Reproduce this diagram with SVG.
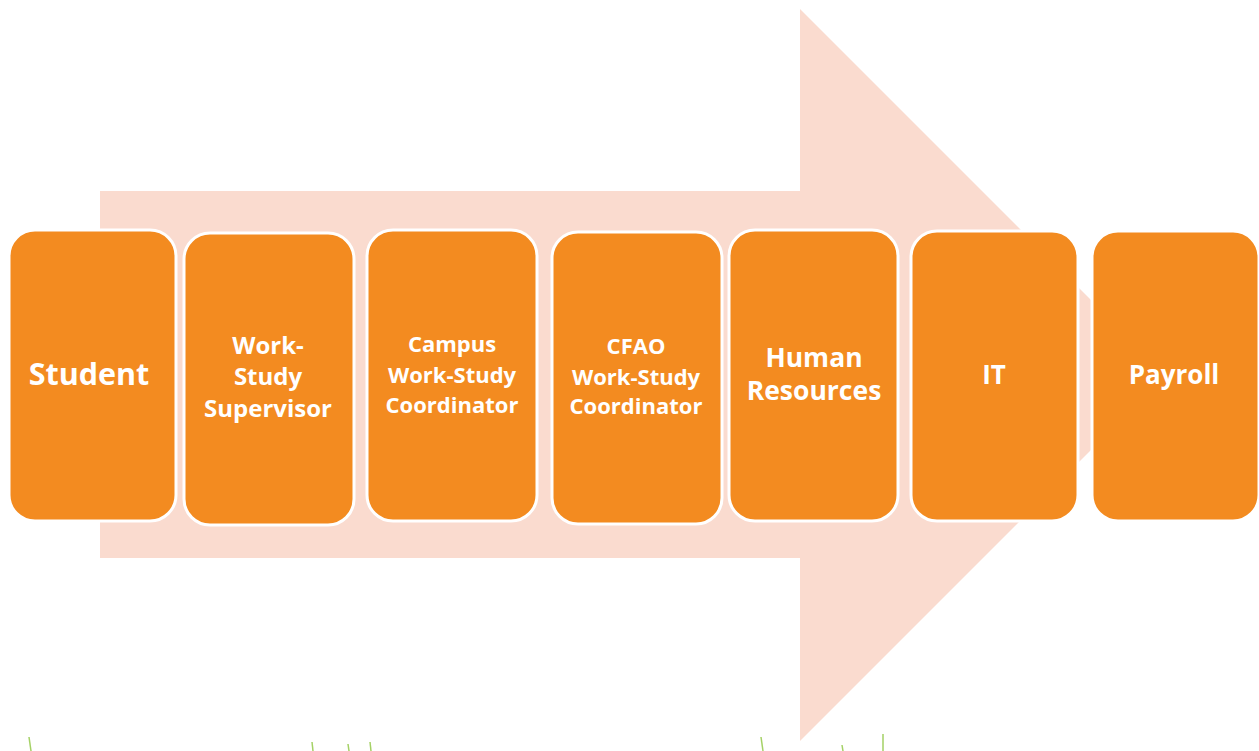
<svg xmlns="http://www.w3.org/2000/svg" width="1259" height="751" viewBox="0 0 1259 751">
<style>
.box{fill:#F38B20;stroke:#FFFFFF;stroke-width:3}
.lbl{font-family:"Open Sans","Noto Sans","Liberation Sans",sans-serif;font-weight:bold;fill:#FFFFFF;text-anchor:middle}
.grass{stroke:#8DC63F;stroke-width:1.5;fill:none;opacity:0.8}
</style>
<rect x="0" y="0" width="1259" height="751" fill="#FFFFFF"/>
<g id="arrow">
<polygon points="100,191 800,191 800,9 1166,375 800,741 800,558 100,558" fill="#FADBCF"/>
</g>
<g id="grass">
<path class="grass" d="M31,751 L29,737"/>
<path class="grass" d="M313,751 L312,742"/>
<path class="grass" d="M349,751 L348,744"/>
<path class="grass" d="M371,751 L370,742"/>
<path class="grass" d="M763,751 L761,737"/>
<path class="grass" d="M843,751 L842,745"/>
<path class="grass" d="M883,751 L883,734"/>
</g>
<g id="connectors"></g>
<g id="student">
<rect class="box" x="9" y="230" width="167" height="291" rx="26"/>
<text class="lbl" x="89" y="385" font-size="30.5">Student</text>
</g>
<g id="supervisor">
<rect class="box" x="184" y="233" width="170" height="292" rx="26"/>
<text class="lbl" font-size="24"><tspan x="268" y="354">Work-</tspan><tspan x="268" y="385">Study</tspan><tspan x="268" y="417">Supervisor</tspan></text>
</g>
<g id="campus">
<rect class="box" x="367" y="230" width="170" height="291" rx="26"/>
<text class="lbl" font-size="22"><tspan x="452" y="352">Campus</tspan><tspan x="452" y="383">Work-Study</tspan><tspan x="452" y="413">Coordinator</tspan></text>
</g>
<g id="cfao">
<rect class="box" x="552" y="232" width="170" height="292" rx="26"/>
<text class="lbl" font-size="22"><tspan x="636" y="354">CFAO</tspan><tspan x="636" y="385">Work-Study</tspan><tspan x="636" y="414">Coordinator</tspan></text>
</g>
<g id="hr">
<rect class="box" x="729" y="230" width="169" height="291" rx="26"/>
<text class="lbl" font-size="26.5"><tspan x="814" y="367">Human</tspan><tspan x="814" y="400">Resources</tspan></text>
</g>
<g id="it">
<rect class="box" x="911" y="231" width="167" height="290" rx="26"/>
<text class="lbl" x="994" y="384" font-size="26">IT</text>
</g>
<g id="payroll">
<rect class="box" x="1092" y="231" width="167" height="290" rx="26"/>
<text class="lbl" x="1174" y="384" font-size="26">Payroll</text>
</g>
</svg>
